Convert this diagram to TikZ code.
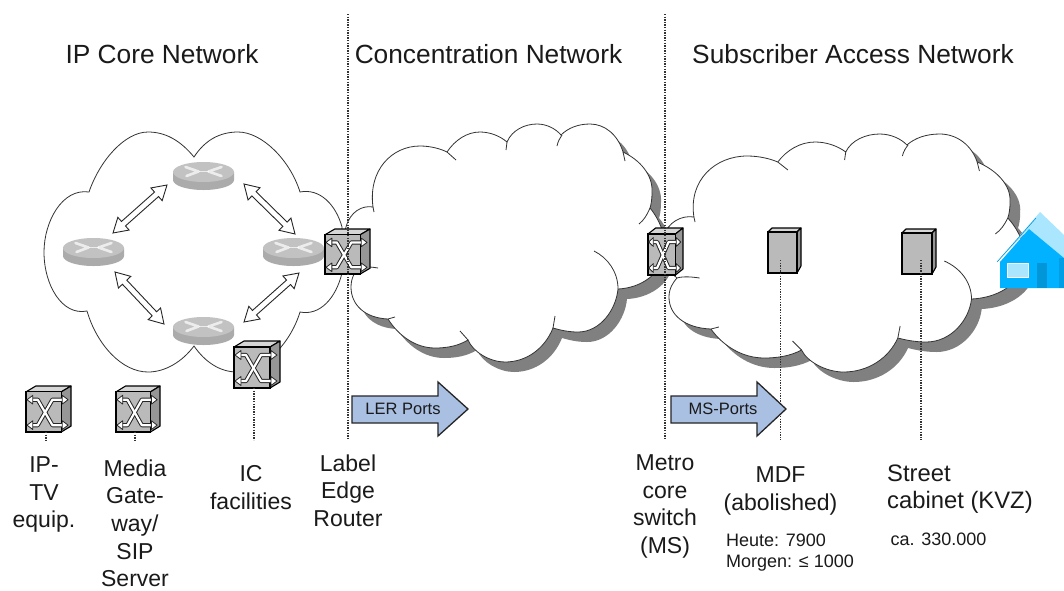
\documentclass[tikz,border=0pt]{standalone}
\usepackage{fontspec}
\setmainfont{Liberation Sans}
\usetikzlibrary{arrows.meta,calc}
\definecolor{shadowgray}{HTML}{808080}
\definecolor{boxgray}{HTML}{BABABA}
\definecolor{boxtop}{HTML}{D6D6D6}
\definecolor{boxside}{HTML}{969696}
\definecolor{rtop}{HTML}{C2C2C2}
\definecolor{rside}{HTML}{ABABAB}
\definecolor{portblue}{HTML}{A9C0E3}
\definecolor{houseblue}{HTML}{00B2FF}
\definecolor{houselight}{HTML}{ABE6FF}
\definecolor{housedoor}{HTML}{0096D8}
\definecolor{txt}{HTML}{1A1A1A}
\tikzset{
  cloudline/.style={draw=black!80,line width=0.8pt},
  dotline/.style={draw=black!80,line width=1.1pt,dash pattern=on 1.3pt off 1.3pt},
  head/.style={font=\fontsize{26.3}{30}\selectfont,text=txt,anchor=base,inner sep=0},
  lab/.style={font=\fontsize{23}{27.6}\selectfont,text=txt,anchor=north,inner sep=0,align=center},
  labl/.style={font=\fontsize{23.8}{27.6}\selectfont,text=txt,anchor=north west,inner sep=0,align=left},
  smalllab/.style={font=\fontsize{18}{21}\selectfont,text=txt,anchor=north west,inner sep=0,align=left},
  portarrow/.style={fill=portblue,draw=black!85,line width=1.3pt,line join=miter},
  porttext/.style={font=\fontsize{16.5}{20}\selectfont,text=txt,inner sep=0},
  xtip/.style={fill=white,draw=black!85,line width=0.8pt,line join=round},
  invisible node/.style={inner sep=0,outer sep=0,minimum width=1pt,minimum height=1pt}
}
% concentration cloud outline, in picture coordinates
\def\cloudOutline{(373,207) .. controls (368,170) and (392,146) .. (420,146)
 .. controls (431,146) and (441,149) .. (447,152)
 .. controls (455,140) and (467,132) .. (480,132)
 .. controls (490,132) and (500,136) .. (507,142)
 .. controls (512,130) and (525,124) .. (537,124)
 .. controls (547,124) and (556,129) .. (561,135)
 .. controls (568,128) and (578,124) .. (590,124)
 .. controls (605,124) and (618,135) .. (623,152)
 .. controls (640,160) and (653,175) .. (652,192)
 .. controls (652,200) and (651,205) .. (650,208)
 .. controls (660,220) and (668,240) .. (664,255)
 .. controls (660,275) and (640,288) .. (618,289)
 .. controls (616,310) and (600,332) .. (578,332)
 .. controls (568,332) and (560,330) .. (553,328)
 .. controls (545,348) and (527,362) .. (505,362)
 .. controls (490,362) and (473,352) .. (468,340)
 .. controls (458,346) and (447,348) .. (435,348)
 .. controls (415,348) and (398,335) .. (388,319)
 .. controls (365,318) and (351,305) .. (351,287)
 .. controls (351,278) and (355,272) .. (358,268)
 .. controls (345,255) and (342,240) .. (346,227)
 .. controls (350,212) and (362,205) .. cycle}
\newcommand\cloudFigure{%
  \fill[shadowgray,xshift=9pt,yshift=-10pt] \cloudOutline;
  \path[fill=white,cloudline] \cloudOutline;
  \draw[cloudline] (373,207) -- (374,212);
  \draw[cloudline] (447,152) -- (456,160);
  \draw[cloudline] (507,142) -- (506,150);
  \draw[cloudline] (557,146) .. controls (558,141) and (560,138) .. (562,135);
  \draw[cloudline] (623,152) -- (625,161);
  \draw[cloudline] (650,208) .. controls (647,215) and (644,220) .. (639,224);
  \draw[cloudline] (594,251) .. controls (608,258) and (618,272) .. (618,289);
  \draw[cloudline] (553,328) -- (555,316);
  \draw[cloudline] (468,340) -- (460,331);
  \draw[cloudline] (388,319) -- (395,317);
  \draw[cloudline] (358,268) .. controls (364,266) and (372,267) .. (378,268);
}
% name, left, top, width, height  (whole device, with its depth)
\newcommand\switchbox[5]{%
  \node[invisible node,minimum width=#4pt,minimum height=#5pt,anchor=north west] (#1) at (#2,#3) {};
  \begin{scope}[shift={(#2,#3)},xscale=#4/46,yscale=#5/47]
    \path[fill=boxtop,draw=black,line width=1.1pt,line join=round] (0,6) -- (10,0) -- (46,0) -- (36,6) -- cycle;
    \path[fill=boxside,draw=black,line width=1.1pt,line join=round] (36,6) -- (46,0) -- (46,41) -- (36,47) -- cycle;
    \path[fill=boxgray,draw=black,line width=1.1pt] (0,6) rectangle (36,47);
    \foreach \wd/\col in {4.2/black!85,2.2/white}{
      \draw[\col,line width=\wd pt,line join=round] (6,14) -- (12,14) -- (27,40) -- (38,40);
      \draw[\col,line width=\wd pt,line join=round] (38,14) -- (27,14) -- (12,40) -- (6,40);
    }
    \path[xtip] (1,14) -- (7,9.5) -- (7,18.5) -- cycle;
    \path[xtip] (1,40) -- (7,35.5) -- (7,44.5) -- cycle;
    \path[xtip] (43,14) -- (37,9.5) -- (37,18.5) -- cycle;
    \path[xtip] (43,40) -- (37,35.5) -- (37,44.5) -- cycle;
  \end{scope}
}
% name, centre x, centre y
\newcommand\routerdisk[3]{%
  \node[invisible node,minimum width=61pt,minimum height=28pt] (#1) at (#2,#3) {};
  \begin{scope}[shift={(#2,#3)}]
    \fill[rside] (-30.5,-4) -- (-30.5,4) arc[start angle=180,end angle=0,x radius=30.5,y radius=10] -- (30.5,-4) -- cycle;
    \fill[rtop] (0,-4) ellipse[x radius=30.5,y radius=10];
    \draw[white,opacity=.7,line width=2.6pt,line cap=round,line join=round] (-18,-9) -- (-5,-4.5) -- (-17,0);
    \draw[white,opacity=.7,line width=2.6pt,line cap=round,line join=round] (18,-9) -- (5,-4.5) -- (18,0);
    \draw[white,opacity=.7,line width=1.8pt] (-5,-4.5) -- (5,-4.5);
  \end{scope}
}
% name, front left, front top, front right, front bottom, depth x, depth y
\newcommand\serverbox[7]{%
  \node[invisible node,minimum width=1pt,minimum height=1pt] (#1) at ({(#2+#4)/2},{(#3+#5)/2}) {};
  \path[fill=boxtop,draw=black,line width=1.1pt,line join=round] (#2,#3) -- ({#2+#6},{#3-#7}) -- ({#4+#6},{#3-#7}) -- (#4,#3) -- cycle;
  \path[fill=boxside,draw=black,line width=1.1pt,line join=round] (#4,#3) -- ({#4+#6},{#3-#7}) -- ({#4+#6},{#5-#7-3}) -- (#4,#5) -- cycle;
  \path[fill=boxgray,draw=black,line width=1.1pt] (#2,#3) rectangle (#4,#5);
}
% block double arrow from named coordinate to named coordinate
\newcommand\dblarrow[2]{%
  \pgfpointdiff{\pgfpointanchor{#1}{center}}{\pgfpointanchor{#2}{center}}%
  \pgfgetlastxy{\dxx}{\dyy}%
  \pgfmathsetmacro\dang{atan2(\dyy,\dxx)}%
  \pgfmathsetmacro\dlen{veclen(\dxx,\dyy)}%
  \begin{scope}[shift={(#1)},rotate=\dang]
    \path[fill=white,draw=black!85,line width=0.9pt,line join=miter]
      (0,0) -- (14,8.5) -- (14,3) -- ({\dlen-14},3) -- ({\dlen-14},8.5) -- (\dlen,0)
      -- ({\dlen-14},-8.5) -- ({\dlen-14},-3) -- (14,-3) -- (14,-8.5) -- cycle;
  \end{scope}
}
\begin{document}
\begin{tikzpicture}[x=1pt,y=-1pt]
\useasboundingbox (0,0) rectangle (1064,590);
\fill[white] (0,0) rectangle (1064,590);

% IP core cloud
\path[fill=white,cloudline] (194,157) .. controls (180,140) and (165,132) .. (148,132)
  .. controls (125,132) and (100,160) .. (89,192)
  .. controls (62,188) and (44,222) .. (44,252)
  .. controls (44,285) and (62,316) .. (87,311)
  .. controls (97,345) and (122,372) .. (148,372)
  .. controls (165,372) and (182,362) .. (194,346)
  .. controls (205,362) and (220,372) .. (237,372)
  .. controls (262,372) and (290,345) .. (300,312)
  .. controls (320,316) and (336,298) .. (342,273)
  -- (342,227)
  .. controls (336,205) and (320,188) .. (300,192)
  .. controls (290,160) and (262,132) .. (238,132)
  .. controls (220,132) and (205,140) .. cycle;

% concentration and access clouds
\begin{scope}
  \cloudFigure
\end{scope}
\begin{scope}[xshift=271.3pt,yshift=-10pt,xscale=1.133]
  \cloudFigure
\end{scope}

% routers
\routerdisk{rT}{203.5}{176}
\routerdisk{rL}{93.5}{252}
\routerdisk{rR}{293.5}{252}
\routerdisk{rB}{203.5}{331}

% router links
\coordinate (a1) at (167,185); \coordinate (a2) at (113,233);
\coordinate (b1) at (244,184); \coordinate (b2) at (295,234);
\coordinate (c1) at (299,273); \coordinate (c2) at (244,322);
\coordinate (d1) at (115,272); \coordinate (d2) at (164,324);
\dblarrow{a1}{a2}
\dblarrow{b1}{b2}
\dblarrow{c1}{c2}
\dblarrow{d1}{d2}

% devices
\switchbox{swTV}{26}{386}{45}{46}
\switchbox{swGW}{116}{386}{44}{46}
\switchbox{swIC}{234}{341}{46}{47}
\switchbox{swLER}{325}{229}{45}{45}
\switchbox{swMS}{648}{228}{35}{47}
\serverbox{mdf}{768}{232}{797}{273}{4}{4}
\serverbox{kvz}{902}{233}{932}{274}{4}{4}

% house
\fill[houselight] (997,262) -- (1040,212) -- (1064,235) -- (1064,258) -- (1029,229) -- cycle;
\draw[housedoor,line width=0.6pt] (997,262) -- (1036,218);
\fill[houseblue] (1000,262) -- (1029,229) -- (1064,258) -- (1064,288) -- (1000,288) -- cycle;
\fill[housedoor!70!houseblue] (1059,258) rectangle (1064,288);
\path[fill=houselight,draw=white,line width=0.7pt] (1007,263) rectangle (1028,277);
\fill[housedoor] (1037,263) rectangle (1047,288);

% dotted drop lines
\coordinate (p0) at (348,14);   \coordinate (p1) at (348,440);
\coordinate (q0) at (665,14);   \coordinate (q1) at (665,440);
\coordinate (m0) at (780.5,260); \coordinate (m1) at (780.5,440);
\coordinate (k0) at (921,260);  \coordinate (k1) at (921,440);
\coordinate (t0) at (46,432);   \coordinate (t1) at (46,440);
\coordinate (g0) at (135,432);  \coordinate (g1) at (135,440);
\coordinate (i0) at (254,388);  \coordinate (i1) at (254,440);
\foreach \s/\e in {p0/p1,q0/q1,m0/m1,k0/k1,t0/t1,g0/g1,i0/i1}{
  \draw[dotline] (\s) -- (\e);
}

% port arrows
\path[portarrow] (352,396) -- (438,396) -- (438,382) -- (468,409) -- (438,436) -- (438,423) -- (352,423) -- cycle;
\node[porttext] (lerports) at (403,409) {LER Ports};
\path[portarrow] (671,396) -- (757,396) -- (757,382) -- (786,409) -- (757,436) -- (757,423) -- (671,423) -- cycle;
\node[porttext] (msports) at (723,409) {MS-Ports};

% headings
\node[head] (h1) at (162,63) {IP Core Network};
\node[head] (h2) at (488.5,63) {Concentration Network};
\node[head] (h3) at (853,63) {Subscriber Access Network};

% labels
\node[lab] (l1) at (44,456.5) {IP-\\TV\\equip.};
\node[lab] (l2) at (135,459.5) {Media\\Gate-\\way/\\SIP\\Server};
\node[lab] (l3) at (251,465.5) {IC\\facilities};
\node[lab] (l4) at (348,454.5) {Label\\Edge\\Router};
\node[lab] (l5) at (665,454.5) {Metro\\core\\switch\\(MS)};
\node[lab] (l6) at (780.5,466.5) {MDF\\(abolished)};
\node[labl] (l7) at (887,464.5) {Street\\cabinet (KVZ)};
\node[smalllab] (l8) at (726,534) {Heute: 7900\\Morgen: ≤ 1000};
\node[smalllab] (l9) at (890.5,533) {ca. 330.000};
\end{tikzpicture}
\end{document}
